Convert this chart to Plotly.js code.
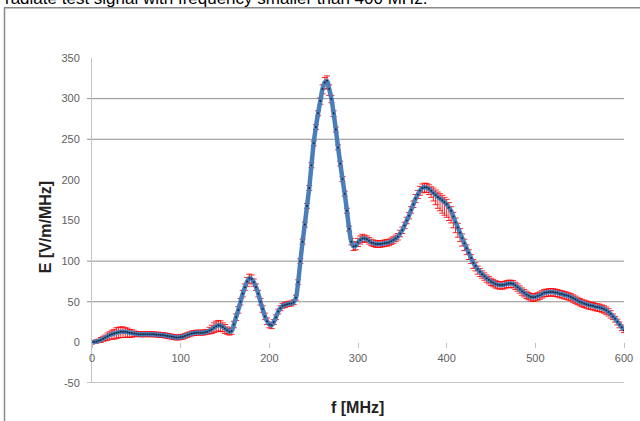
<!DOCTYPE html>
<html>
<head>
<meta charset="utf-8">
<script src="https://cdn.plot.ly/plotly-3.0.1.min.js"></script>
<style>
  html, body { margin: 0; padding: 0; background: #fff; }
  #chart { width: 640px; height: 421px; }
</style>
</head>
<body>
<div id="chart"></div>
<script>
// Frequency grid (MHz): first sample and spacing
const freqStart = 0;
const freqStep = 2.5;

// Field strength E [V/m/MHz], one value per 2.5 MHz from 0 to 600 MHz
const eField = [
  0, 0.5, 1, 2, 3, 4.5, 6, 7.5, 9, 10,
  11, 12, 12.5, 13, 13, 13, 12.5, 12, 11.5, 11,
  10.5, 10, 10, 10, 10, 10, 10, 10, 10, 9.5,
  9.5, 9, 9, 8.5, 8, 7.5, 7, 6.5, 6, 6,
  6.5, 7, 8, 9, 10, 11, 11.5, 12, 12, 12,
  12, 12.5, 13, 14.5, 16, 18, 20, 21, 20.5, 19,
  17, 15, 13, 14, 22, 31, 40, 50, 60, 68,
  75, 79, 78, 74, 68, 60, 50, 41, 32, 26,
  22, 21, 25, 31, 38, 42, 45, 46, 47, 47.5,
  48, 49.5, 55, 74, 100, 124, 145, 168, 190, 218,
  245, 265, 282, 297, 312, 320, 322, 312, 300, 282,
  262, 240, 220, 201, 183, 162, 140, 124, 118, 119,
  123, 126, 128, 128, 127, 125, 123, 122, 121, 121,
  121, 121.5, 122, 122.5, 123, 124.5, 126, 128, 130, 134,
  138, 144, 150, 156, 163, 170, 177, 182, 187, 190,
  191, 190.5, 189, 186.5, 184, 181.5, 179, 177, 175, 172.5,
  170, 166, 162, 155, 148, 141.5, 135, 128.5, 122, 116,
  110, 104, 98, 94, 90, 87, 84, 81.5, 79, 77,
  75, 73.5, 72, 71, 70.5, 70.5, 71, 72, 72.5, 72.5,
  72, 70, 68, 65.5, 63, 61, 59, 57.5, 56, 55.5,
  56, 57, 58, 59.5, 61, 61.5, 62, 62, 62, 61.5,
  61, 60, 59.5, 58.5, 58, 57, 56, 54.5, 53, 51.5,
  50, 49, 48, 47, 46, 45.5, 45, 44, 43.5, 43,
  42, 41, 39.5, 37.5, 35, 32, 29, 25.5, 22, 18.5,
  15
];

// Upper error of E
const errPlus = [
  2, 2, 2, 2, 3, 3, 3, 4, 4, 5,
  5, 6, 6, 6, 6, 5, 5, 4, 4, 3,
  3, 3, 3, 3, 3, 3, 3, 3, 3, 3,
  3, 3, 3, 3, 3, 3, 3, 3, 3, 3,
  3, 3, 3, 3, 3, 3, 3, 3, 3, 3,
  3, 3, 3, 4, 5, 6, 6, 6, 6, 5,
  5, 4, 4, 4, 4, 4, 4, 4, 4, 4,
  5, 5, 5, 4, 4, 4, 4, 4, 4, 4,
  3, 3, 3, 3, 3, 3, 3, 3, 3, 3,
  3, 3, 3, 3, 3, 3, 3, 3, 3, 3,
  3, 3, 3, 4, 5, 6, 6, 5, 4, 3,
  3, 3, 3, 3, 3, 3, 3, 4, 5, 5,
  5, 5, 5, 4, 4, 4, 4, 4, 4, 4,
  4, 4, 4, 4, 4, 4, 4, 4, 4, 4,
  4, 4, 4, 4, 4, 4, 5, 5, 5, 5,
  5, 5, 5, 5, 6, 6, 6, 6, 6, 6,
  6, 6, 5, 5, 5, 5, 5, 5, 5, 4,
  4, 4, 4, 4, 4, 4, 4, 4, 4, 4,
  4, 4, 4, 4, 4, 4, 4, 4, 4, 4,
  4, 4, 4, 4, 4, 4, 4, 4, 4, 4,
  4, 4, 4, 4, 4, 4, 4, 4, 4, 4,
  4, 4, 4, 4, 4, 4, 4, 4, 4, 4,
  4, 4, 4, 4, 4, 4, 4, 4, 4, 4,
  4, 4, 4, 4, 4, 3, 3, 3, 3, 3,
  3
];

// Lower error of E
const errMinus = [
  2, 2, 2, 2, 3, 3, 4, 5, 5, 6,
  7, 7, 7, 7, 7, 7, 6, 6, 5, 4,
  3, 3, 3, 3, 3, 3, 3, 3, 3, 3,
  3, 3, 3, 3, 3, 3, 3, 3, 3, 3,
  3, 3, 3, 3, 3, 3, 3, 3, 3, 3,
  3, 3, 3, 4, 5, 6, 7, 7, 7, 6,
  6, 5, 4, 4, 4, 4, 4, 4, 4, 4,
  6, 6, 6, 5, 4, 4, 4, 4, 4, 4,
  4, 4, 3, 3, 3, 3, 3, 3, 3, 3,
  3, 3, 3, 3, 3, 3, 3, 3, 3, 3,
  3, 3, 3, 4, 6, 8, 10, 8, 5, 4,
  3, 3, 3, 3, 3, 3, 3, 4, 5, 5,
  5, 5, 5, 4, 4, 4, 4, 4, 4, 4,
  4, 4, 4, 4, 4, 4, 4, 4, 4, 4,
  4, 4, 4, 4, 4, 4, 5, 5, 6, 6,
  6, 6, 7, 8, 10, 12, 14, 15, 16, 16,
  16, 16, 15, 14, 13, 12, 11, 10, 9, 8,
  8, 7, 7, 6, 6, 6, 5, 5, 5, 5,
  5, 5, 5, 5, 5, 5, 5, 5, 5, 5,
  5, 5, 5, 5, 5, 5, 5, 5, 5, 5,
  5, 5, 5, 5, 5, 5, 5, 5, 5, 5,
  5, 5, 5, 5, 5, 5, 5, 5, 5, 5,
  5, 5, 5, 5, 5, 5, 5, 5, 5, 5,
  5, 5, 5, 5, 5, 4, 4, 4, 4, 4,
  3
];

// Axis ticks
const xTicks = [0, 100, 200, 300, 400, 500, 600];
const yTicks = [-50, 0, 50, 100, 150, 200, 250, 300, 350];
// Horizontal gridlines visible in the reference
const gridValues = [300, 250, 100, 50, -50];

const axisLabelFont = { family: 'Liberation Sans, Arial, sans-serif', size: 11, color: '#606060' };
const titleFont = { family: 'Liberation Sans, Arial, sans-serif', size: 16, color: '#222222' };

const traces = [
  {
    type: 'scatter', mode: 'markers',
    x0: freqStart, dx: freqStep, y: eField,
    marker: { size: 1, color: 'rgba(0,0,0,0)' },
    error_y: {
      type: 'data', symmetric: false,
      array: errPlus, arrayminus: errMinus,
      color: 'rgba(255,0,0,0.85)', thickness: 1, width: 3
    },
    hoverinfo: 'skip'
  },
  {
    type: 'scatter', mode: 'lines',
    x0: freqStart, dx: freqStep, y: eField,
    line: { color: '#4A7EBB', width: 4.5, shape: 'spline' },
    hoverinfo: 'skip'
  },
  {
    type: 'scatter', mode: 'markers',
    x0: freqStart, dx: freqStep, y: eField,
    marker: { size: 2, color: 'rgba(0,0,0,0.65)' },
    hoverinfo: 'skip'
  }
];

const plotW = 532, plotH = 325;
const shapes = gridValues.map(v => ({
  type: 'line', xref: 'paper', yref: 'y',
  x0: -5 / plotW, x1: 1, y0: v, y1: v,
  line: { color: '#8f8f8f', width: 1 }, layer: 'below'
}));
// document frame
shapes.push({
  type: 'rect', xref: 'paper', yref: 'paper',
  x0: (4.5 - 92) / plotW, x1: 1.3,
  y0: -0.5, y1: (382.7 - 7.5) / plotH,
  line: { color: '#8a8a8a', width: 1.5 }, fillcolor: 'rgba(0,0,0,0)', layer: 'below'
});

const layout = {
  width: 640, height: 421,
  margin: { l: 92, r: 16, t: 58, b: 38, pad: 0 },
  paper_bgcolor: '#ffffff', plot_bgcolor: '#ffffff',
  showlegend: false, hovermode: false,
  xaxis: {
    range: [0, 600], tickvals: xTicks, ticktext: xTicks.map(String),
    anchor: 'free', position: 0.125,
    ticks: 'outside', ticklen: 5, tickcolor: '#bfbfbf', tickwidth: 1,
    showline: false, showgrid: false, zeroline: false,
    tickfont: axisLabelFont
  },
  yaxis: {
    range: [-50, 350], tickvals: yTicks, ticktext: yTicks.map(String),
    ticks: '', showgrid: false, zeroline: false,
    showline: true, linecolor: '#c4c4c4', linewidth: 1,
    ticklabelstandoff: 9,
    tickfont: axisLabelFont
  },
  shapes: shapes,
  annotations: [
    {
      text: '<b>E [V/m/MHz]</b>', textangle: -90,
      xref: 'paper', yref: 'paper',
      x: (45 - 92) / plotW, y: (382.7 - 227) / plotH,
      xanchor: 'center', yanchor: 'middle', showarrow: false,
      font: titleFont
    },
    {
      text: '<b>f [MHz]</b>',
      xref: 'paper', yref: 'paper',
      x: (357 - 92) / plotW, y: (382.7 - 407) / plotH,
      xanchor: 'center', yanchor: 'middle', showarrow: false,
      font: titleFont
    },
    {
      text: 'radiate test signal with frequency smaller than 400 MHz.',
      xref: 'paper', yref: 'paper',
      x: (3 - 92) / plotW, y: (382.7 - 10) / plotH,
      xanchor: 'left', yanchor: 'bottom', showarrow: false,
      font: { family: 'Liberation Sans, Arial, sans-serif', size: 17, color: '#000000' }
    }
  ]
};

Plotly.newPlot('chart', traces, layout, { displayModeBar: false, staticPlot: true });
</script>
</body>
</html>
